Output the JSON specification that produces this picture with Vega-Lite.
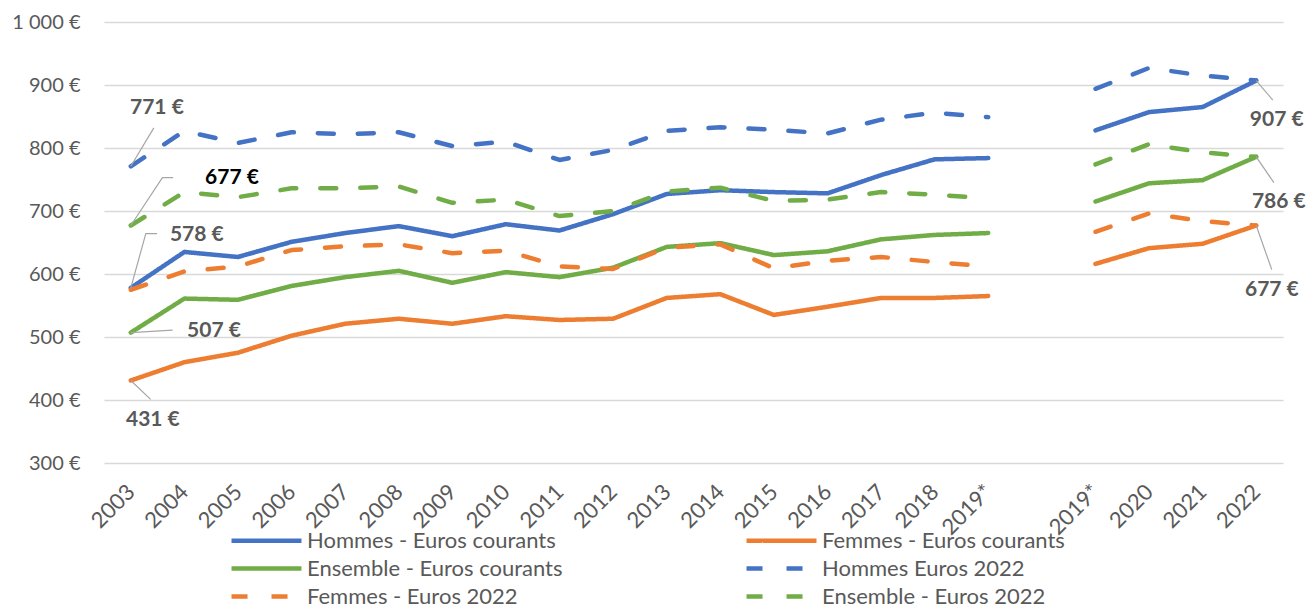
{
  "$schema": "https://vega.github.io/schema/vega-lite/v6.json",
  "width": 1179,
  "height": 441,
  "autosize": {"type": "none"},
  "padding": {"left": 104, "top": 22, "right": 23, "bottom": 145},
  "background": "white",
  "config": {
    "view": {"stroke": null},
    "font": "Lato",
    "axis": {"labelFont": "Lato", "labelColor": "#595959"},
    "legend": {"labelFont": "Lato"}
  },
  "layer": [
    {
      "data": {
        "values": [
          {"i": 0, "seg": "a", "Hommes - Euros courants": 578, "Femmes - Euros courants": 431, "Ensemble - Euros courants": 507, "Hommes Euros 2022": 771, "Femmes - Euros 2022": 575, "Ensemble - Euros 2022": 677},
          {"i": 1, "seg": "a", "Hommes - Euros courants": 635, "Femmes - Euros courants": 460, "Ensemble - Euros courants": 561, "Hommes Euros 2022": 827, "Femmes - Euros 2022": 604, "Ensemble - Euros 2022": 730},
          {"i": 2, "seg": "a", "Hommes - Euros courants": 627, "Femmes - Euros courants": 475, "Ensemble - Euros courants": 559, "Hommes Euros 2022": 808, "Femmes - Euros 2022": 612, "Ensemble - Euros 2022": 722},
          {"i": 3, "seg": "a", "Hommes - Euros courants": 651, "Femmes - Euros courants": 502, "Ensemble - Euros courants": 581, "Hommes Euros 2022": 825, "Femmes - Euros 2022": 638, "Ensemble - Euros 2022": 736},
          {"i": 4, "seg": "a", "Hommes - Euros courants": 665, "Femmes - Euros courants": 521, "Ensemble - Euros courants": 595, "Hommes Euros 2022": 822, "Femmes - Euros 2022": 644, "Ensemble - Euros 2022": 736},
          {"i": 5, "seg": "a", "Hommes - Euros courants": 676, "Femmes - Euros courants": 529, "Ensemble - Euros courants": 605, "Hommes Euros 2022": 825, "Femmes - Euros 2022": 647, "Ensemble - Euros 2022": 739},
          {"i": 6, "seg": "a", "Hommes - Euros courants": 660, "Femmes - Euros courants": 521, "Ensemble - Euros courants": 586, "Hommes Euros 2022": 803, "Femmes - Euros 2022": 633, "Ensemble - Euros 2022": 713},
          {"i": 7, "seg": "a", "Hommes - Euros courants": 679, "Femmes - Euros courants": 533, "Ensemble - Euros courants": 603, "Hommes Euros 2022": 810, "Femmes - Euros 2022": 637, "Ensemble - Euros 2022": 718},
          {"i": 8, "seg": "a", "Hommes - Euros courants": 669, "Femmes - Euros courants": 527, "Ensemble - Euros courants": 595, "Hommes Euros 2022": 781, "Femmes - Euros 2022": 612, "Ensemble - Euros 2022": 692},
          {"i": 9, "seg": "a", "Hommes - Euros courants": 695, "Femmes - Euros courants": 529, "Ensemble - Euros courants": 610, "Hommes Euros 2022": 797, "Femmes - Euros 2022": 608, "Ensemble - Euros 2022": 700},
          {"i": 10, "seg": "a", "Hommes - Euros courants": 727, "Femmes - Euros courants": 562, "Ensemble - Euros courants": 643, "Hommes Euros 2022": 827, "Femmes - Euros 2022": 642, "Ensemble - Euros 2022": 731},
          {"i": 11, "seg": "a", "Hommes - Euros courants": 733, "Femmes - Euros courants": 568, "Ensemble - Euros courants": 649, "Hommes Euros 2022": 833, "Femmes - Euros 2022": 647, "Ensemble - Euros 2022": 737},
          {"i": 12, "seg": "a", "Hommes - Euros courants": 730, "Femmes - Euros courants": 535, "Ensemble - Euros courants": 630, "Hommes Euros 2022": 829, "Femmes - Euros 2022": 609, "Ensemble - Euros 2022": 716},
          {"i": 13, "seg": "a", "Hommes - Euros courants": 728, "Femmes - Euros courants": 548, "Ensemble - Euros courants": 636, "Hommes Euros 2022": 823, "Femmes - Euros 2022": 621, "Ensemble - Euros 2022": 718},
          {"i": 14, "seg": "a", "Hommes - Euros courants": 757, "Femmes - Euros courants": 562, "Ensemble - Euros courants": 655, "Hommes Euros 2022": 845, "Femmes - Euros 2022": 627, "Ensemble - Euros 2022": 730},
          {"i": 15, "seg": "a", "Hommes - Euros courants": 782, "Femmes - Euros courants": 562, "Ensemble - Euros courants": 662, "Hommes Euros 2022": 856, "Femmes - Euros 2022": 619, "Ensemble - Euros 2022": 726},
          {"i": 16, "seg": "a", "Hommes - Euros courants": 784, "Femmes - Euros courants": 565, "Ensemble - Euros courants": 665, "Hommes Euros 2022": 849, "Femmes - Euros 2022": 612, "Ensemble - Euros 2022": 720},
          {"i": 18, "seg": "b", "Hommes - Euros courants": 828, "Femmes - Euros courants": 616, "Ensemble - Euros courants": 715, "Hommes Euros 2022": 894, "Femmes - Euros 2022": 667, "Ensemble - Euros 2022": 774},
          {"i": 19, "seg": "b", "Hommes - Euros courants": 857, "Femmes - Euros courants": 641, "Ensemble - Euros courants": 744, "Hommes Euros 2022": 927, "Femmes - Euros 2022": 696, "Ensemble - Euros 2022": 806},
          {"i": 20, "seg": "b", "Hommes - Euros courants": 865, "Femmes - Euros courants": 648, "Ensemble - Euros courants": 749, "Hommes Euros 2022": 915, "Femmes - Euros 2022": 684, "Ensemble - Euros 2022": 793},
          {"i": 21, "seg": "b", "Hommes - Euros courants": 907, "Femmes - Euros courants": 677, "Ensemble - Euros courants": 786, "Hommes Euros 2022": 907, "Femmes - Euros 2022": 677, "Ensemble - Euros 2022": 786}
        ]
      },
      "transform": [
        {"fold": ["Hommes - Euros courants", "Femmes - Euros courants", "Ensemble - Euros courants", "Hommes Euros 2022", "Femmes - Euros 2022", "Ensemble - Euros 2022"], "as": ["serie", "val"]}
      ],
      "mark": {"type": "line", "strokeWidth": 4.5, "strokeCap": "round", "strokeJoin": "round"},
      "encoding": {
        "x": {
          "field": "i", "type": "quantitative",
          "scale": {"domain": [-0.5, 21.5], "nice": false, "zero": false},
          "axis": {
            "title": null, "grid": false, "domain": false, "ticks": false,
            "values": [0,1,2,3,4,5,6,7,8,9,10,11,12,13,14,15,16,18,19,20,21],
            "labelExpr": "['2003','2004','2005','2006','2007','2008','2009','2010','2011','2012','2013','2014','2015','2016','2017','2018','2019*','','2019*','2020','2021','2022'][datum.value]",
            "labelAngle": -45, "labelAlign": "right", "labelBaseline": "middle",
            "labelPadding": 25, "labelFontSize": 22, "labelOverlap": false, "labelBound": false, "labelFlush": false
          }
        },
        "y": {
          "field": "val", "type": "quantitative",
          "scale": {"domain": [300, 1000], "nice": false, "zero": false},
          "axis": {
            "title": null, "domain": false, "ticks": false,
            "values": [300,400,500,600,700,800,900,1000],
            "labelExpr": "datum.value >= 1000 ? '1 000 €' : datum.value + ' €'",
            "labelPadding": 24, "labelFontSize": 20,
            "gridColor": "#D9D9D9", "gridWidth": 1.5
          }
        },
        "detail": {"field": "seg"},
        "color": {
          "field": "serie", "type": "nominal",
          "scale": {
            "domain": ["Hommes - Euros courants", "Femmes - Euros courants", "Ensemble - Euros courants", "Hommes Euros 2022", "Femmes - Euros 2022", "Ensemble - Euros 2022"],
            "range": ["#4472C4", "#ED7D31", "#70AD47", "#4472C4", "#ED7D31", "#70AD47"]
          },
          "legend": {
            "title": null, "orient": "none", "legendX": 149, "legendY": 505, "direction": "horizontal",
            "columns": 2, "columnPadding": 174, "rowPadding": 3, "padding": 0,
            "symbolType": "M-3.18,0H3.18", "symbolSize": 484, "symbolStrokeWidth": 4.5,
            "labelFontSize": 22, "labelColor": "#595959", "labelOffset": 27, "labelLimit": 400
          }
        },
        "strokeDash": {
          "field": "serie", "type": "nominal",
          "scale": {
            "domain": ["Hommes - Euros courants", "Femmes - Euros courants", "Ensemble - Euros courants", "Hommes Euros 2022", "Femmes - Euros 2022", "Ensemble - Euros 2022"],
            "range": [[1, 0], [1, 0], [1, 0], [16, 24], [16, 24], [16, 24]]
          },
          "legend": {
            "title": null, "orient": "none", "legendX": 149, "legendY": 505, "direction": "horizontal",
            "columns": 2, "columnPadding": 174, "rowPadding": 3, "padding": 0,
            "symbolType": "M-3.18,0H3.18", "symbolSize": 484, "symbolStrokeWidth": 4.5,
            "labelFontSize": 22, "labelColor": "#595959", "labelOffset": 27, "labelLimit": 400
          }
        }
      }
    },
    {
      "data": {
        "values": [
          {"id": "a", "k": 0, "i": 0, "v": 771}, {"id": "a", "k": 1, "i": 0.43, "v": 832},
          {"id": "b", "k": 0, "i": 0, "v": 677}, {"id": "b", "k": 1, "i": 0.59, "v": 753}, {"id": "b", "k": 2, "i": 0.79, "v": 753},
          {"id": "c", "k": 0, "i": 0, "v": 578}, {"id": "c", "k": 1, "i": 0.28, "v": 664}, {"id": "c", "k": 2, "i": 0.49, "v": 664},
          {"id": "d", "k": 0, "i": 0, "v": 507}, {"id": "d", "k": 1, "i": 0.78, "v": 511},
          {"id": "e", "k": 0, "i": 0, "v": 431}, {"id": "e", "k": 1, "i": 0.37, "v": 401},
          {"id": "f", "k": 0, "i": 21, "v": 907}, {"id": "f", "k": 1, "i": 21.31, "v": 876},
          {"id": "g", "k": 0, "i": 21, "v": 786}, {"id": "g", "k": 1, "i": 21.33, "v": 745},
          {"id": "h", "k": 0, "i": 21, "v": 677}, {"id": "h", "k": 1, "i": 21.29, "v": 607}
        ]
      },
      "mark": {"type": "line", "stroke": "#A6A6A6", "strokeWidth": 1.2},
      "encoding": {
        "x": {"field": "i", "type": "quantitative"},
        "y": {"field": "v", "type": "quantitative"},
        "detail": {"field": "id"},
        "order": {"field": "k"}
      }
    },
    {
      "data": {
        "values": [
          {"i": -0.015, "v": 863, "t": "771 €", "black": false},
          {"i": 1.385, "v": 752, "t": "677 €", "black": true},
          {"i": 0.73, "v": 662, "t": "578 €", "black": false},
          {"i": 1.05, "v": 509, "t": "507 €", "black": false},
          {"i": -0.09, "v": 368, "t": "431 €", "black": false},
          {"i": 20.88, "v": 844, "t": "907 €", "black": false},
          {"i": 20.92, "v": 714, "t": "786 €", "black": false},
          {"i": 20.79, "v": 574, "t": "677 €", "black": false}
        ]
      },
      "mark": {"type": "text", "align": "left", "baseline": "middle", "fontSize": 21, "fontWeight": "bold", "font": "Lato"},
      "encoding": {
        "x": {"field": "i", "type": "quantitative"},
        "y": {"field": "v", "type": "quantitative"},
        "text": {"field": "t"},
        "color": {"condition": {"test": "datum.black", "value": "#000000"}, "value": "#595959"}
      }
    }
  ]
}
